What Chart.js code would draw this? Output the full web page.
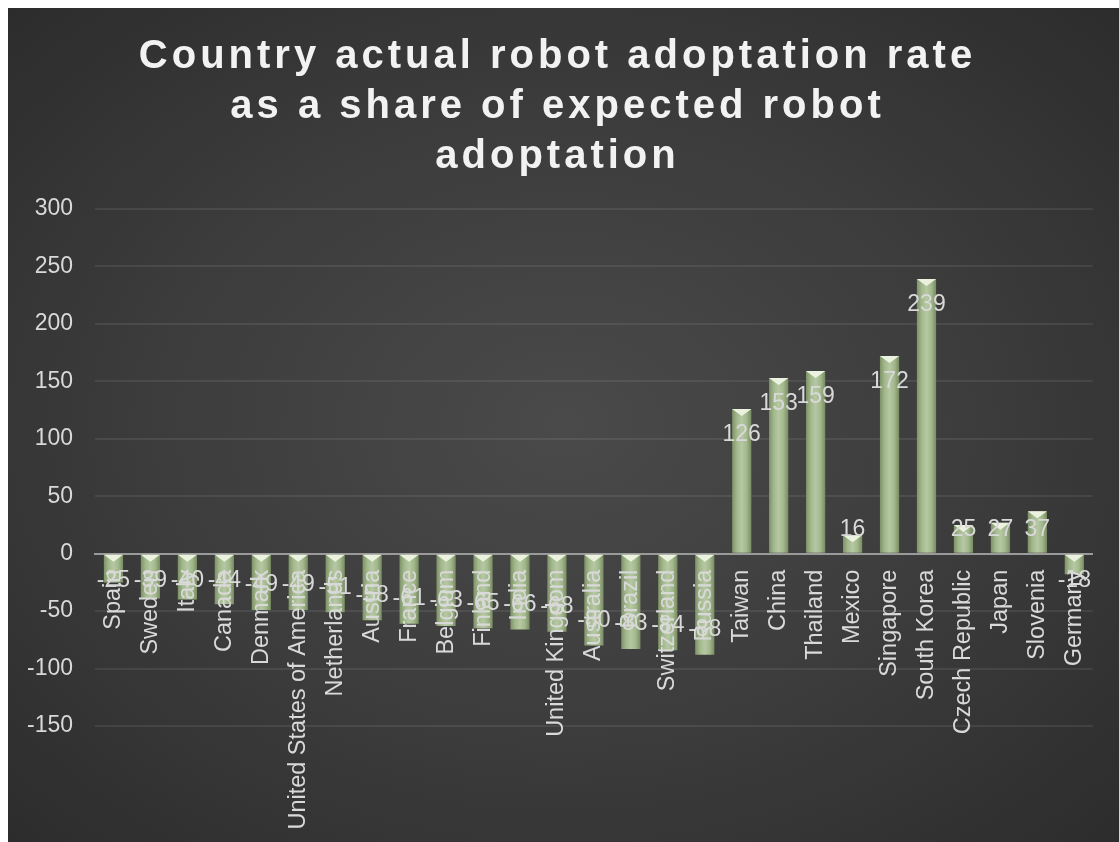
<!DOCTYPE html>
<html>
<head>
<meta charset="utf-8">
<title>Country actual robot adoptation rate</title>
<script src="https://cdn.jsdelivr.net/npm/chart.js@4.4.0/dist/chart.umd.min.js"></script>
<style>
  html, body { margin: 0; padding: 0; overflow: hidden; background: #fff; }
  #wrap { position: absolute; left: 8px; top: 8px; width: 1111px; height: 834px; }
  #robots {
    background: radial-gradient(ellipse 75% 75% at 50% 50%, #4a4a4a 0%, #3c3c3c 50%, #2a2a2a 100%);
  }
</style>
</head>
<body>
<div id="wrap"><canvas id="robots" width="1111" height="834"></canvas></div>
<script>
const countries = [
  "Spain", "Sweden", "Italy", "Canada", "Denmark", "United States of America",
  "Netherlands", "Austria", "France", "Belgium", "Finland", "India",
  "United Kingdom", "Australia", "Brazil", "Switzerland", "Russia",
  "Taiwan", "China", "Thailand", "Mexico", "Singapore", "South Korea",
  "Czech Republic", "Japan", "Slovenia", "Germany"
];
const adoptionRate = [
  -25, -39, -40, -44, -49, -49, -51, -58, -61, -63, -65, -66, -68, -80, -83, -84, -88,
  126, 153, 159, 16, 172, 239, 25, 27, 37, -18
];
const yMin = -150;
const yMax = 300;
const yStep = 50;

const titleLines = [
  "Country actual robot adoptation rate",
  "as a share of expected robot",
  "adoptation"
];

const BAR_PCT = 0.52;
const FONT = '"Liberation Sans", Arial, sans-serif';
Chart.defaults.font.family = FONT;

// bar fill: horizontal shading so each bar looks rounded
function barFill(c) {
  const chart = c.chart;
  const xs = chart.scales.x;
  if (!xs || c.dataIndex === undefined || !xs.width) return "#a5b98f";
  const cx = xs.getPixelForValue(c.dataIndex);
  const half = xs.width / countries.length * BAR_PCT / 2;
  const g = chart.ctx.createLinearGradient(cx - half, 0, cx + half, 0);
  g.addColorStop(0, "#7d9266");
  g.addColorStop(0.25, "#a3b88d");
  g.addColorStop(0.5, "#b6c8a2");
  g.addColorStop(0.75, "#a3b88d");
  g.addColorStop(1, "#788c62");
  return g;
}

const barTrim = {
  id: "barTrim",
  beforeDraw(chart) {
    chart.ctx.letterSpacing = "4px"; // spaced title
  },
  beforeDatasetsDraw(chart) {
    chart.ctx.letterSpacing = "0px";
  },
  afterDatasetsDraw(chart) {
    const ctx = chart.ctx;
    const meta = chart.getDatasetMeta(0);
    const zeroY = chart.scales.y.getPixelForValue(0);
    ctx.save();
    // light bevel tip at the top of every bar
    ctx.fillStyle = "rgba(238, 245, 228, 0.95)";
    meta.data.forEach((bar) => {
      const top = Math.min(bar.y, bar.base);
      const w = bar.width;
      ctx.beginPath();
      ctx.moveTo(bar.x - w / 2, top);
      ctx.lineTo(bar.x + w / 2, top);
      ctx.lineTo(bar.x, top + 7);
      ctx.closePath();
      ctx.fill();
    });
    // value labels, inside end
    ctx.font = "23px " + FONT;
    ctx.fillStyle = "#d9d9d9";
    ctx.textAlign = "center";
    ctx.textBaseline = "middle";
    meta.data.forEach((bar, i) => {
      const v = adoptionRate[i];
      const ly = v >= 0
        ? Math.min(bar.y + 26, zeroY - 24)
        : Math.max(bar.y - 25, zeroY + 27);
      ctx.fillText(String(v), bar.x, ly);
    });
    ctx.restore();
  }
};

new Chart(document.getElementById("robots"), {
  type: "bar",
  data: {
    labels: countries,
    datasets: [
      {
        data: adoptionRate,
        backgroundColor: barFill,
        borderWidth: 0,
        categoryPercentage: 1,
        barPercentage: BAR_PCT,
      },
    ],
  },
  options: {
    responsive: false,
    animation: false,
    devicePixelRatio: 1,
    layout: { padding: { left: 14, right: 26, top: 0, bottom: 116 } },
    plugins: {
      legend: { display: false },
      tooltip: { enabled: false },
      title: {
        display: true,
        text: titleLines,
        color: "#f2f2f2",
        font: { size: 40, weight: "bold", lineHeight: 1.25 },
        padding: { top: 24, bottom: 27 },
      },
    },
    scales: {
      x: {
        position: { y: 0 },
        grid: { display: false, drawTicks: false },
        border: { display: true, color: "#9a9a9a", width: 2 },
        ticks: {
          z: 1,
          color: "#d9d9d9",
          font: { size: 23.5 },
          padding: 16,
          autoSkip: false,
          minRotation: 90,
          maxRotation: 90,
        },
      },
      y: {
        min: yMin,
        max: yMax,
        grid: { color: "rgba(255,255,255,0.08)", lineWidth: 2, drawTicks: false },
        border: { display: false },
        ticks: {
          z: 1,
          stepSize: yStep,
          color: "#d9d9d9",
          font: { size: 23 },
          padding: 22,
        },
        afterFit(scale) { scale.width = 73; },
      },
    },
  },
  plugins: [barTrim],
});
</script>
</body>
</html>
